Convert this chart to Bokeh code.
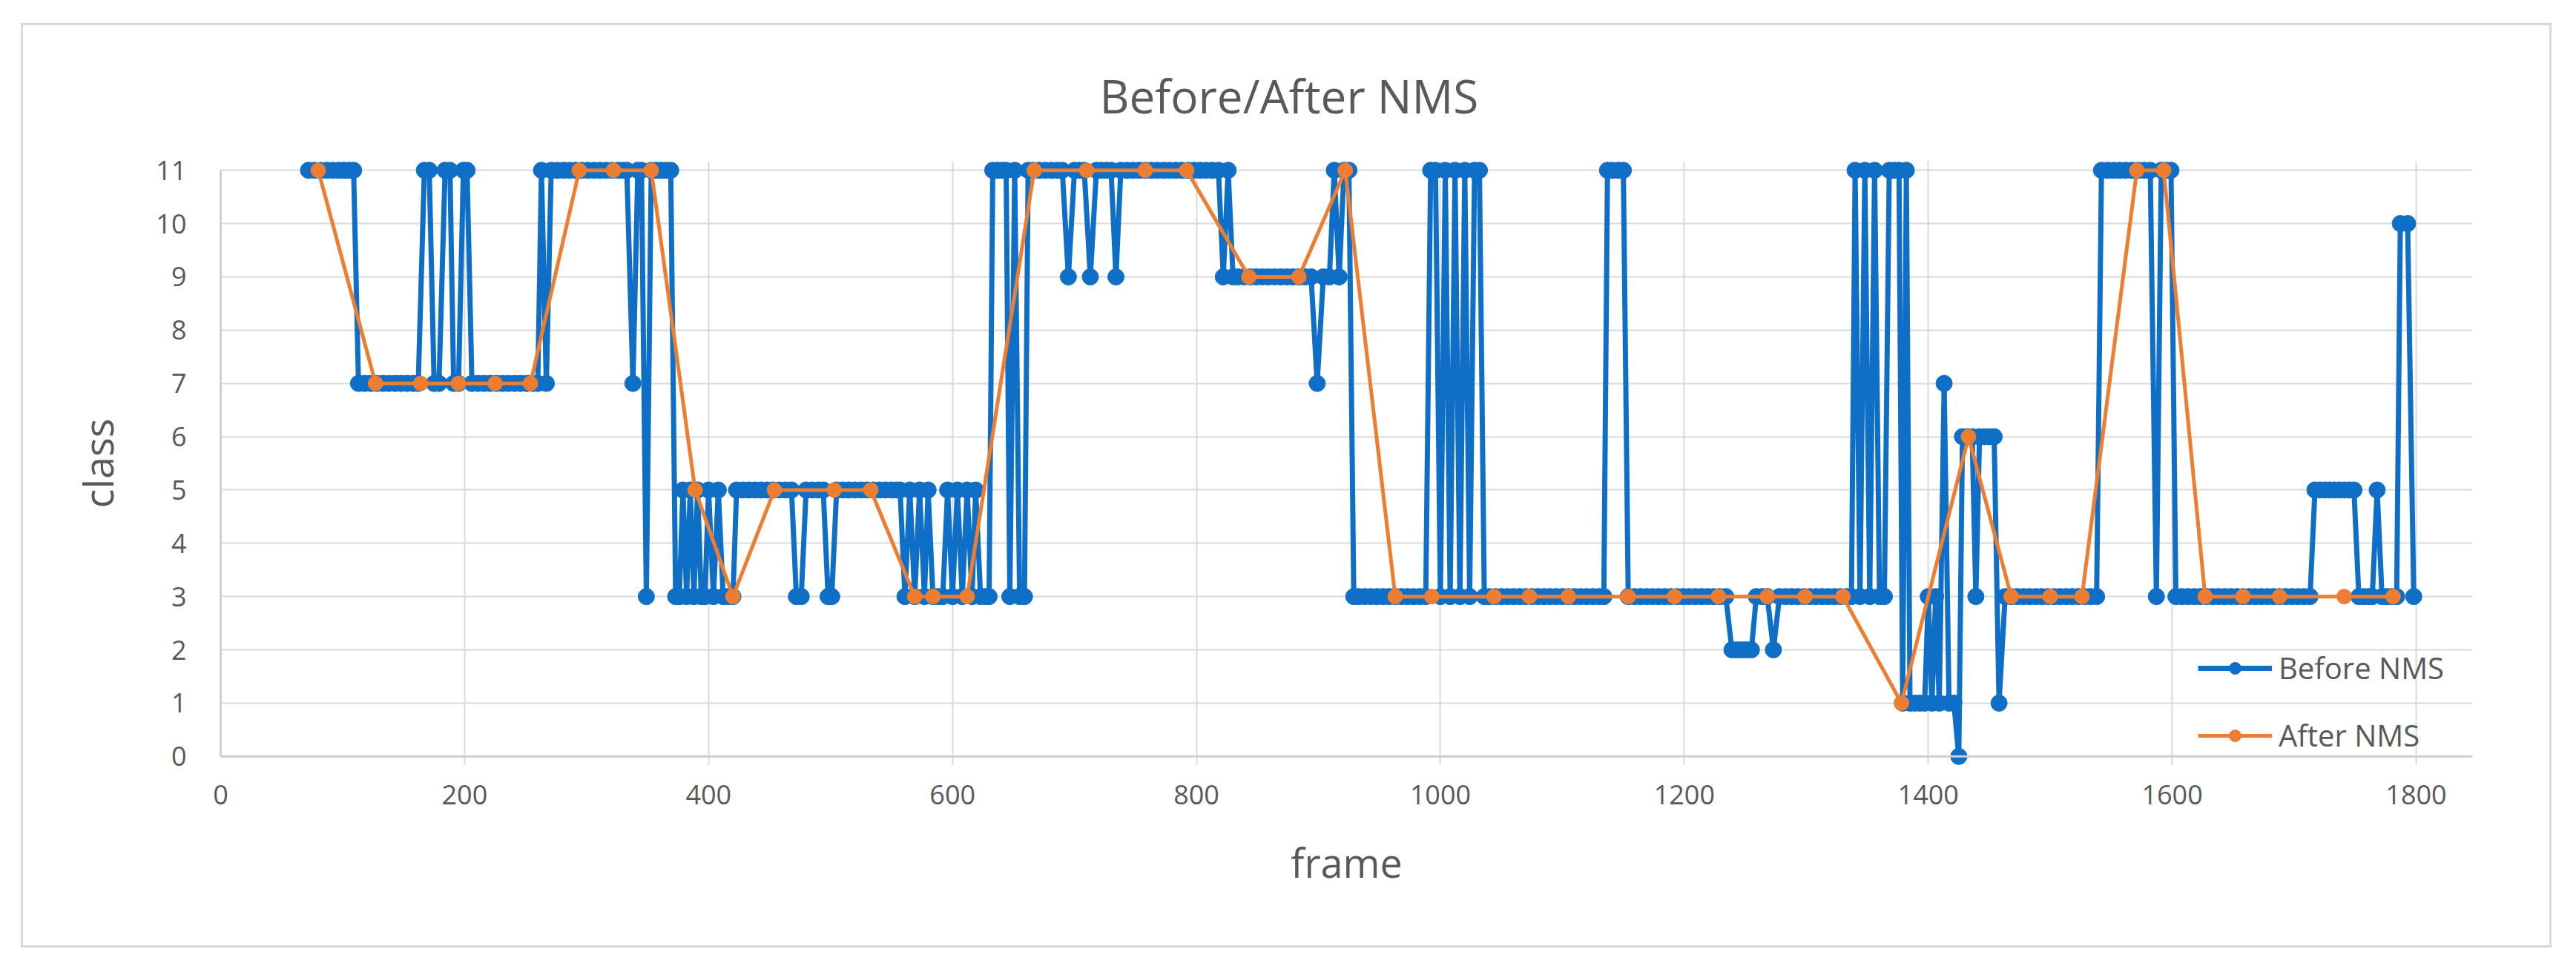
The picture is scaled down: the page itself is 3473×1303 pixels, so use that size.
from bokeh.plotting import figure
from bokeh.models import ColumnDataSource, FixedTicker, Span, Legend, LegendItem, Range1d
from bokeh.embed import file_html
from bokeh.resources import INLINE

# ---------------- data ----------------
before_frame = [
    72, 77, 82, 87, 92, 97, 101, 105, 109,
    113, 118, 123, 128, 133, 138, 143, 148, 153, 158, 162,
    167, 171, 175, 179, 184, 188, 191, 195, 199, 202, 206,
    211, 216, 221, 226, 231, 236, 241, 246, 251, 256, 260,
    263, 267, 271,
    276, 281, 286, 291, 296, 301, 306, 311, 316, 321, 326, 330, 333,
    338, 342, 345, 349, 353, 357, 361, 365, 369, 373,
    376, 379, 382, 385, 388, 391, 394, 397, 400, 404, 408, 412, 416, 420, 423,
    428, 433, 438, 443, 448, 453, 458, 463, 468,
    472, 476, 480, 485, 490, 494, 498, 501, 505,
    510, 515, 520, 525, 530, 535, 540, 545, 550, 554, 557,
    561, 565, 569, 573, 577, 580, 584, 588, 592, 596, 600, 604, 608, 612, 616, 619, 623, 627, 630,
    633, 637, 641, 644, 647, 651, 655, 659, 662, 666,
    671, 676, 681, 686, 690, 695, 700, 704, 708, 713, 718, 722, 726, 730, 734, 738,
    743, 748, 753, 758, 763, 768, 773, 778, 783, 788, 793, 798, 803, 808, 813, 818,
    822, 826, 830,
    834, 839, 844, 849, 854, 859, 864, 869, 874, 879, 884, 889, 894, 899, 904, 909, 913, 917, 921, 925, 929,
    933, 938, 943, 948, 953, 958, 963, 968, 973, 978, 983, 988,
    992, 996, 1000, 1004, 1008, 1012, 1016, 1020, 1024, 1028, 1032, 1036,
    1040, 1045, 1050, 1055, 1060, 1065, 1070, 1075, 1080, 1085, 1090, 1095, 1100, 1105, 1110, 1115, 1120, 1125, 1130, 1134,
    1137, 1141, 1146, 1150, 1154,
    1159, 1164, 1169, 1174, 1179, 1184, 1189, 1194, 1199, 1204, 1209, 1214, 1219, 1224, 1229, 1234,
    1239, 1243, 1247, 1251, 1255, 1259, 1264, 1268, 1273, 1278,
    1283, 1288, 1293, 1298, 1303, 1308, 1313, 1318, 1323, 1328, 1333, 1337,
    1340, 1344, 1348, 1352, 1356, 1360, 1364, 1368, 1372, 1376, 1379, 1382, 1385,
    1389, 1393, 1397, 1400, 1403, 1406, 1409, 1413, 1417, 1421, 1425, 1428, 1432, 1436, 1439, 1442, 1446, 1450, 1454, 1458, 1463,
    1468, 1473, 1478, 1483, 1488, 1493, 1498, 1503, 1508, 1513, 1518, 1523, 1528, 1533, 1538,
    1542, 1547, 1552, 1557, 1562, 1567, 1572, 1577, 1582, 1587, 1591, 1595, 1599, 1603,
    1608, 1613, 1618, 1623, 1628, 1633, 1638, 1643, 1648, 1653, 1658, 1663, 1668, 1673, 1678, 1683, 1688, 1693, 1698, 1703, 1708, 1713,
    1717, 1721, 1725, 1729, 1733, 1737, 1741, 1745, 1749, 1753, 1757, 1761, 1764, 1768, 1772, 1776, 1780, 1784, 1787, 1793, 1798,
]
before_class = [
    11, 11, 11, 11, 11, 11, 11, 11, 11,
    7, 7, 7, 7, 7, 7, 7, 7, 7, 7, 7,
    11, 11, 7, 7, 11, 11, 7, 7, 11, 11, 7,
    7, 7, 7, 7, 7, 7, 7, 7, 7, 7, 7,
    11, 7, 11,
    11, 11, 11, 11, 11, 11, 11, 11, 11, 11, 11, 11, 11,
    7, 11, 11, 3, 11, 11, 11, 11, 11, 3,
    3, 5, 3, 5, 3, 5, 3, 3, 5, 3, 5, 3, 3, 3, 5,
    5, 5, 5, 5, 5, 5, 5, 5, 5,
    3, 3, 5, 5, 5, 5, 3, 3, 5,
    5, 5, 5, 5, 5, 5, 5, 5, 5, 5, 5,
    3, 5, 3, 5, 3, 5, 3, 3, 3, 5, 3, 5, 3, 5, 3, 5, 3, 3, 3,
    11, 11, 11, 11, 3, 11, 3, 3, 11, 11,
    11, 11, 11, 11, 11, 9, 11, 11, 11, 9, 11, 11, 11, 11, 9, 11,
    11, 11, 11, 11, 11, 11, 11, 11, 11, 11, 11, 11, 11, 11, 11, 11,
    9, 11, 9,
    9, 9, 9, 9, 9, 9, 9, 9, 9, 9, 9, 9, 9, 7, 9, 9, 11, 9, 11, 11, 3,
    3, 3, 3, 3, 3, 3, 3, 3, 3, 3, 3, 3,
    11, 11, 3, 11, 3, 11, 3, 11, 3, 11, 11, 3,
    3, 3, 3, 3, 3, 3, 3, 3, 3, 3, 3, 3, 3, 3, 3, 3, 3, 3, 3, 3,
    11, 11, 11, 11, 3,
    3, 3, 3, 3, 3, 3, 3, 3, 3, 3, 3, 3, 3, 3, 3, 3,
    2, 2, 2, 2, 2, 3, 3, 3, 2, 3,
    3, 3, 3, 3, 3, 3, 3, 3, 3, 3, 3, 3,
    11, 3, 11, 3, 11, 3, 3, 11, 11, 11, 1, 11, 1,
    1, 1, 1, 3, 1, 3, 1, 7, 1, 1, 0, 6, 6, 6, 3, 6, 6, 6, 6, 1, 3,
    3, 3, 3, 3, 3, 3, 3, 3, 3, 3, 3, 3, 3, 3, 3,
    11, 11, 11, 11, 11, 11, 11, 11, 11, 3, 11, 11, 11, 3,
    3, 3, 3, 3, 3, 3, 3, 3, 3, 3, 3, 3, 3, 3, 3, 3, 3, 3, 3, 3, 3, 3,
    5, 5, 5, 5, 5, 5, 5, 5, 5, 3, 3, 3, 3, 5, 3, 3, 3, 3, 10, 10, 3,
]
after_frame = [80, 127, 164, 195, 225, 254, 294, 322, 353, 389, 420, 454, 503, 533,
               569, 584, 612, 667, 710, 758, 792, 843, 884, 922, 963, 993, 1044, 1073,
               1105, 1154, 1192, 1228, 1268, 1299, 1330, 1378, 1433, 1468, 1500, 1526,
               1571, 1593, 1627, 1658, 1688, 1741, 1781]
after_class = [11, 7, 7, 7, 7, 7, 11, 11, 11, 5, 3, 5, 5, 5,
               3, 3, 3, 11, 11, 11, 11, 9, 9, 11, 3, 3, 3, 3,
               3, 3, 3, 3, 3, 3, 3, 1, 6, 3, 3, 3,
               11, 11, 3, 3, 3, 3, 3]
x_ticks = [0, 200, 400, 600, 800, 1000, 1200, 1400, 1600, 1800]
y_ticks = [0, 1, 2, 3, 4, 5, 6, 7, 8, 9, 10, 11]

assert len(before_frame) == len(before_class)
assert len(after_frame) == len(after_class)

BLUE = "#0f6fc6"
ORANGE = "#ed7d31"
GRAY_TXT = "#595959"
FONT = "Open Sans"

before = ColumnDataSource(dict(x=before_frame, y=before_class))
after = ColumnDataSource(dict(x=after_frame, y=after_class))

p = figure(width=3406, height=1241,
           x_range=Range1d(0, 1846.2), y_range=Range1d(-0.17, 11.17),
           output_backend="svg", toolbar_location=None,
           min_border_left=266, min_border_right=104,
           min_border_top=183, min_border_bottom=243)
p.styles = {"margin-left": "31px", "margin-top": "34px", "outline": "3px solid #d9d9d9"}
p.outline_line_color = None
p.background_fill_color = "white"
p.border_fill_color = "white"

# title
p.title.text = "Before/After NMS"
p.title.align = "left"
p.title.offset = 1185
p.title.standoff = 94
p.title.text_font = FONT
p.title.text_font_size = "62px"
p.title.text_font_style = "normal"
p.title.text_color = GRAY_TXT

# grids
p.xgrid.ticker = FixedTicker(ticks=x_ticks)
p.ygrid.ticker = FixedTicker(ticks=y_ticks)
p.xgrid.grid_line_color = "#d9d9d9"
p.ygrid.grid_line_color = "#d9d9d9"
p.xgrid.grid_line_width = 2
p.ygrid.grid_line_width = 2

# axes
p.xaxis.ticker = FixedTicker(ticks=x_ticks)
p.yaxis.ticker = FixedTicker(ticks=y_ticks)
for ax in (p.xaxis[0], p.yaxis[0]):
    ax.major_tick_line_color = None
    ax.minor_tick_line_color = None
    ax.major_label_text_font = FONT
    ax.major_label_text_font_size = "36px"
    ax.major_label_text_color = GRAY_TXT
    ax.axis_label_text_font = FONT
    ax.axis_label_text_font_size = "54px"
    ax.axis_label_text_font_style = "normal"
    ax.axis_label_text_color = GRAY_TXT
p.xaxis.axis_label = "frame"
p.yaxis.axis_label = "class"
p.xaxis.axis_line_color = None
p.yaxis.axis_line_color = "#d0d0d0"
p.yaxis.axis_line_width = 3
p.yaxis.bounds = (0, 11)
p.xaxis.major_label_standoff = 20
p.yaxis.major_label_standoff = 40
p.xaxis.axis_label_standoff = 38
p.yaxis.axis_label_standoff = 38

p.add_layout(Span(location=0, dimension="width", line_color="#d0d0d0", line_width=3))

# series
bl = p.line("x", "y", source=before, line_color=BLUE, line_width=7, line_join="round")
bs = p.scatter("x", "y", source=before, marker="circle", size=22, fill_color=BLUE, line_color=BLUE)
ol = p.line("x", "y", source=after, line_color=ORANGE, line_width=5, line_join="round")
osc = p.scatter("x", "y", source=after, marker="circle", size=20, fill_color=ORANGE, line_color=ORANGE)

legend = Legend(items=[LegendItem(label="Before NMS", renderers=[bl, bs]),
                       LegendItem(label="After NMS", renderers=[ol, osc])],
                location=(2666, 13), orientation="vertical",
                border_line_color=None, background_fill_alpha=0,
                label_text_font=FONT, label_text_font_size="40px", label_text_color=GRAY_TXT,
                glyph_width=100, glyph_height=40, label_height=40, spacing=36,
                padding=0, margin=0, label_standoff=9)
p.add_layout(legend)

open("out.html", "w").write(file_html(p, INLINE))
